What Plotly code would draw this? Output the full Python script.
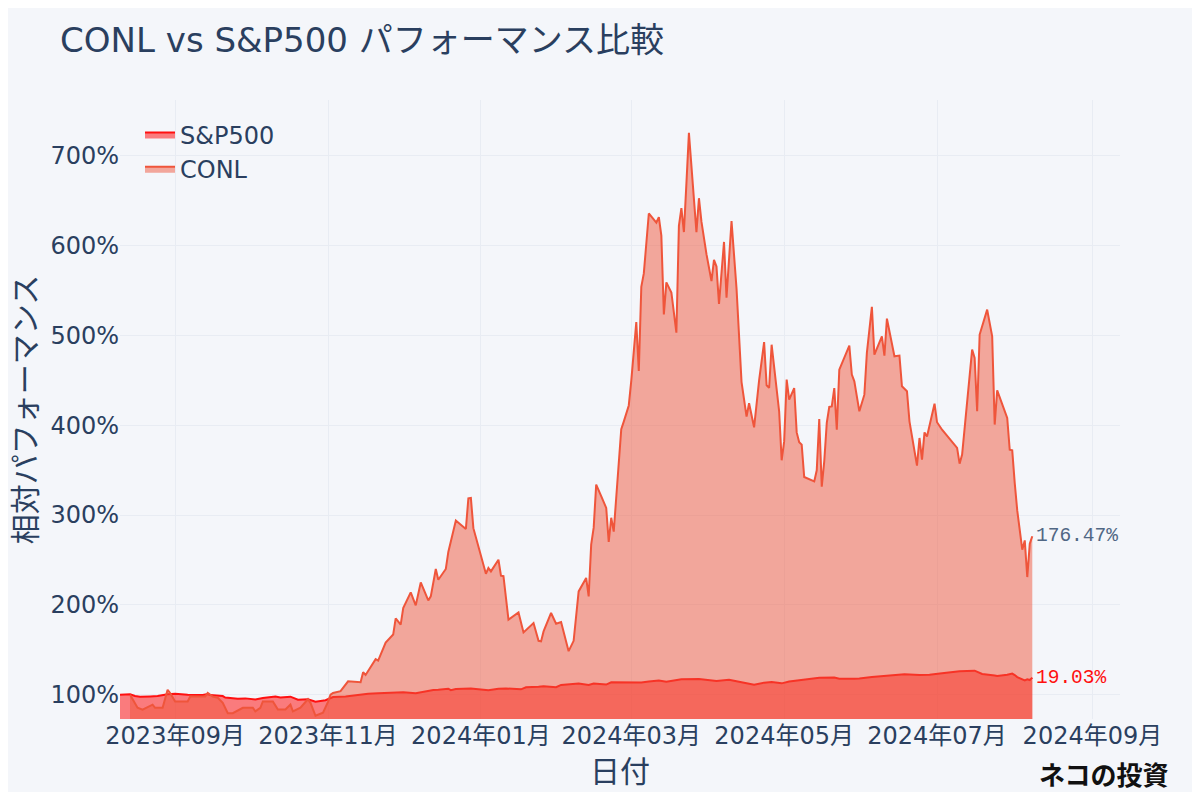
import plotly.graph_objects as go

# S&P500 相対パフォーマンス (%), 2023-08-10 = 100
sp_dates = [
    "2023-08-10", "2023-08-14", "2023-08-16", "2023-08-18", "2023-08-22", "2023-08-24", "2023-08-25",
    "2023-08-29", "2023-08-31", "2023-09-01", "2023-09-06", "2023-09-08", "2023-09-12", "2023-09-14",
    "2023-09-15", "2023-09-20", "2023-09-21", "2023-09-26", "2023-09-29", "2023-10-03", "2023-10-06",
    "2023-10-11", "2023-10-13", "2023-10-17", "2023-10-20", "2023-10-24", "2023-10-27", "2023-10-31",
    "2023-11-02", "2023-11-03", "2023-11-08", "2023-11-10", "2023-11-14", "2023-11-17", "2023-11-21",
    "2023-11-24", "2023-11-30", "2023-12-01", "2023-12-06", "2023-12-08", "2023-12-13", "2023-12-15",
    "2023-12-19", "2023-12-20", "2023-12-22", "2023-12-28", "2023-12-29", "2024-01-02", "2024-01-04",
    "2024-01-08", "2024-01-11", "2024-01-17", "2024-01-19", "2024-01-24", "2024-01-26", "2024-01-31",
    "2024-02-02", "2024-02-09", "2024-02-13", "2024-02-15", "2024-02-20", "2024-02-22", "2024-02-29",
    "2024-03-05", "2024-03-08", "2024-03-12", "2024-03-15", "2024-03-21", "2024-03-28", "2024-04-04",
    "2024-04-09", "2024-04-12", "2024-04-15", "2024-04-19", "2024-04-23", "2024-04-26", "2024-04-30",
    "2024-05-03", "2024-05-08", "2024-05-15", "2024-05-21", "2024-05-23", "2024-05-29", "2024-05-31",
    "2024-06-05", "2024-06-12", "2024-06-18", "2024-06-24", "2024-06-28", "2024-07-03", "2024-07-10",
    "2024-07-16", "2024-07-19", "2024-07-24", "2024-07-25", "2024-07-29", "2024-07-31", "2024-08-01",
    "2024-08-02", "2024-08-05", "2024-08-06", "2024-08-07", "2024-08-08",
]
sp_values = [
    100.0, 100.47, 98.56, 97.78, 98.18, 97.93, 98.59,
    100.64, 100.87, 101.05, 99.93, 99.75, 99.84, 100.81,
    99.59, 98.51, 96.89, 95.63, 95.95, 94.64, 96.41,
    97.94, 96.84, 97.86, 94.52, 95.05, 92.14, 93.85,
    96.62, 97.53, 98.07, 98.80, 100.60, 101.01, 101.55,
    102.03, 102.21, 102.82, 101.80, 103.03, 105.33, 105.60,
    106.70, 105.14, 106.40, 107.04, 106.74, 106.13, 104.92,
    106.59, 106.97, 106.05, 108.30, 108.94, 109.45, 108.43,
    110.96, 112.48, 110.84, 112.55, 111.34, 113.83, 114.04,
    113.65, 114.65, 115.81, 114.51, 117.29, 117.58, 115.18,
    116.58, 114.65, 113.27, 111.15, 113.47, 114.12, 112.68,
    114.75, 116.09, 118.78, 119.08, 117.88, 117.86, 118.10,
    119.81, 121.31, 122.79, 121.91, 122.19, 123.90, 126.07,
    126.82, 123.19, 121.44, 120.82, 122.26, 123.57, 121.88,
    119.64, 116.06, 117.26, 116.35, 119.03,
]

# CONL 相対パフォーマンス (%)
conl_dates = [
    "2023-08-14", "2023-08-17", "2023-08-19", "2023-08-22", "2023-08-23", "2023-08-24", "2023-08-27",
    "2023-08-29", "2023-08-30", "2023-09-01", "2023-09-06", "2023-09-07", "2023-09-11", "2023-09-13",
    "2023-09-14", "2023-09-16", "2023-09-18", "2023-09-20", "2023-09-22", "2023-09-24", "2023-09-28",
    "2023-10-02", "2023-10-03", "2023-10-05", "2023-10-06", "2023-10-10", "2023-10-12", "2023-10-15",
    "2023-10-17", "2023-10-18", "2023-10-21", "2023-10-24", "2023-10-25", "2023-10-27", "2023-10-30",
    "2023-11-01", "2023-11-02", "2023-11-03", "2023-11-06", "2023-11-07", "2023-11-09", "2023-11-14",
    "2023-11-15", "2023-11-16", "2023-11-20", "2023-11-21", "2023-11-24", "2023-11-27", "2023-11-28",
    "2023-11-30", "2023-12-01", "2023-12-04", "2023-12-06", "2023-12-08", "2023-12-11", "2023-12-12",
    "2023-12-14", "2023-12-15", "2023-12-18", "2023-12-19", "2023-12-22", "2023-12-26", "2023-12-27",
    "2023-12-28", "2023-12-29", "2024-01-03", "2024-01-04", "2024-01-05", "2024-01-08", "2024-01-09",
    "2024-01-10", "2024-01-12", "2024-01-16", "2024-01-18", "2024-01-22", "2024-01-24", "2024-01-25",
    "2024-01-26", "2024-01-29", "2024-01-31", "2024-02-02", "2024-02-05", "2024-02-07", "2024-02-09",
    "2024-02-12", "2024-02-13", "2024-02-14", "2024-02-15", "2024-02-16", "2024-02-18", "2024-02-20",
    "2024-02-21", "2024-02-22", "2024-02-23", "2024-02-24", "2024-02-25", "2024-02-26", "2024-02-27",
    "2024-02-29", "2024-03-01", "2024-03-03", "2024-03-04", "2024-03-05", "2024-03-06", "2024-03-08",
    "2024-03-11", "2024-03-12", "2024-03-13", "2024-03-14", "2024-03-15", "2024-03-17", "2024-03-19",
    "2024-03-20", "2024-03-21", "2024-03-22", "2024-03-23", "2024-03-24", "2024-03-27", "2024-03-28",
    "2024-03-29", "2024-03-31", "2024-04-02", "2024-04-03", "2024-04-04", "2024-04-05", "2024-04-07",
    "2024-04-08", "2024-04-10", "2024-04-12", "2024-04-14", "2024-04-16", "2024-04-17", "2024-04-19",
    "2024-04-21", "2024-04-23", "2024-04-24", "2024-04-25", "2024-04-26", "2024-04-29", "2024-04-30",
    "2024-05-01", "2024-05-02", "2024-05-03", "2024-05-05", "2024-05-06", "2024-05-07", "2024-05-08",
    "2024-05-09", "2024-05-13", "2024-05-14", "2024-05-15", "2024-05-16", "2024-05-17", "2024-05-18",
    "2024-05-19", "2024-05-20", "2024-05-21", "2024-05-22", "2024-05-23", "2024-05-27", "2024-05-28",
    "2024-05-29", "2024-05-31", "2024-06-02", "2024-06-03", "2024-06-05", "2024-06-06", "2024-06-09",
    "2024-06-10", "2024-06-11", "2024-06-13", "2024-06-14", "2024-06-16", "2024-06-17", "2024-06-19",
    "2024-06-20", "2024-06-23", "2024-06-24", "2024-06-25", "2024-06-26", "2024-06-27", "2024-06-30",
    "2024-07-01", "2024-07-03", "2024-07-09", "2024-07-10", "2024-07-11", "2024-07-13", "2024-07-15",
    "2024-07-16", "2024-07-17", "2024-07-18", "2024-07-21", "2024-07-23", "2024-07-24", "2024-07-25",
    "2024-07-29", "2024-07-30", "2024-07-31", "2024-08-01", "2024-08-02", "2024-08-04", "2024-08-05",
    "2024-08-06", "2024-08-07", "2024-08-08",
]
conl_values = [
    100.0, 85.5, 83.5, 87.0, 89.0, 85.5, 85.5,
    105.5, 102.0, 92.5, 92.5, 98.0, 98.0, 98.0,
    102.0, 98.0, 96.7, 91.0, 79.5, 79.5, 85.5,
    85.5, 81.5, 85.5, 92.5, 92.5, 83.5, 83.5,
    89.0, 81.5, 85.5, 95.0, 91.0, 76.6, 80.0,
    92.0, 100.0, 102.0, 104.0, 107.5, 115.0, 114.0,
    125.0, 122.0, 139.6, 138.0, 158.0, 167.0, 185.0,
    178.0, 196.5, 214.0, 199.5, 225.0, 205.0, 209.5,
    240.0, 228.0, 240.0, 259.0, 294.0, 284.5, 318.6,
    319.0, 285.4, 234.7, 241.0, 237.3, 250.3, 232.5,
    232.0, 183.5, 191.6, 169.4, 179.8, 160.0, 159.4,
    170.5, 191.0, 179.0, 181.0, 148.5, 160.0, 215.0,
    230.0, 209.5, 267.0, 286.0, 334.0, 321.0, 308.0,
    270.0, 297.0, 281.6, 320.0, 366.7, 395.6, 404.0,
    422.0, 449.6, 514.8, 460.3, 554.0, 569.0, 635.7,
    625.6, 631.5, 611.0, 523.3, 559.0, 547.8, 503.0,
    622.0, 641.6, 615.0, 669.5, 725.4, 615.0, 652.7,
    626.5, 590.4, 560.5, 584.0, 576.6, 535.0, 604.0,
    542.0, 627.2, 552.0, 448.0, 409.6, 424.5, 397.7,
    450.0, 492.5, 444.5, 441.5, 489.6, 415.5, 361.0,
    382.0, 450.8, 428.5, 441.4, 392.0, 381.0, 378.4,
    342.4, 337.5, 349.8, 407.0, 331.6, 360.0, 402.6,
    420.4, 421.0, 441.4, 395.0, 461.9, 488.6, 456.3,
    448.9, 415.5, 434.0, 480.5, 531.7, 478.6, 499.0,
    477.5, 518.7, 487.8, 476.7, 477.5, 443.4, 437.8,
    404.3, 355.0, 385.8, 361.7, 392.0, 387.5, 424.0,
    403.3, 395.0, 374.7, 357.2, 367.3, 426.6, 484.2,
    474.9, 415.5, 500.9, 528.7, 499.0, 400.7, 438.8,
    408.2, 372.8, 372.0, 335.6, 305.2, 261.5, 271.8,
    231.0, 268.0, 276.47,
]

sp_return = 19.03
conl_return = 176.47

font_main = "DejaVu Sans, Noto Sans CJK JP, sans-serif"
text_color = "#2a3f5f"
bg = "#F4F6FA"
grid = "#E8ECF3"

fig = go.Figure()

fig.add_trace(go.Scatter(
    x=sp_dates, y=sp_values, name="S&P500", mode="lines",
    line=dict(color="#FF1010", width=2),
    fill="tozeroy", fillcolor="rgba(255,0,0,0.5)",
))

fig.add_trace(go.Scatter(
    x=conl_dates, y=conl_values, name="CONL", mode="lines",
    line=dict(color="#EF553B", width=2),
    fill="tozeroy", fillcolor="rgba(239,85,59,0.5)",
))

# 最終リターンのラベル
fig.add_annotation(
    x=conl_dates[-1], y=conl_values[-1], text=f"{conl_return:.2f}%",
    showarrow=False, xanchor="left", xshift=2,
    font=dict(family="Liberation Mono", size=19.5, color="#506784"),
)
fig.add_annotation(
    x=sp_dates[-1], y=sp_values[-1], text=f"{sp_return:.2f}%",
    showarrow=False, xanchor="left", xshift=2,
    font=dict(family="Liberation Mono", size=19.5, color="#FF1010"),
)

# 透かし
fig.add_annotation(
    xref="paper", yref="paper", x=1.05, y=-0.088,
    text="<b>ネコの投資</b>", showarrow=False, xanchor="right", yanchor="middle",
    font=dict(family="Noto Sans CJK JP", size=26, color="#111111"),
)

fig.update_layout(
    width=1184, height=784,
    title=dict(text="CONL vs S&P500 パフォーマンス比較", x=0.044, xanchor="left",
               y=0.959, yanchor="middle", font=dict(size=34, color=text_color)),
    font=dict(family=font_main, size=24, color=text_color),
    paper_bgcolor=bg, plot_bgcolor=bg,
    margin=dict(l=112, r=72, t=92, b=73),
    showlegend=True,
    legend=dict(x=0.02, y=0.98, xanchor="left", yanchor="top",
                bgcolor="rgba(0,0,0,0)", font=dict(size=24)),
    xaxis=dict(
        type="date", range=["2023-08-10", "2024-09-12"],
        tickformat="%Y年%m月", dtick="M2", automargin=False,
        title=dict(text="日付", font=dict(size=30), standoff=11),
        gridcolor=grid, showline=False, zeroline=False,
    ),
    yaxis=dict(
        range=[73, 762], dtick=100, ticksuffix="%", automargin=False,
        title=dict(text="相対パフォーマンス", font=dict(size=30)),
        gridcolor=grid, showline=False, zeroline=False,
    ),
)

fig.write_html("out.html")
